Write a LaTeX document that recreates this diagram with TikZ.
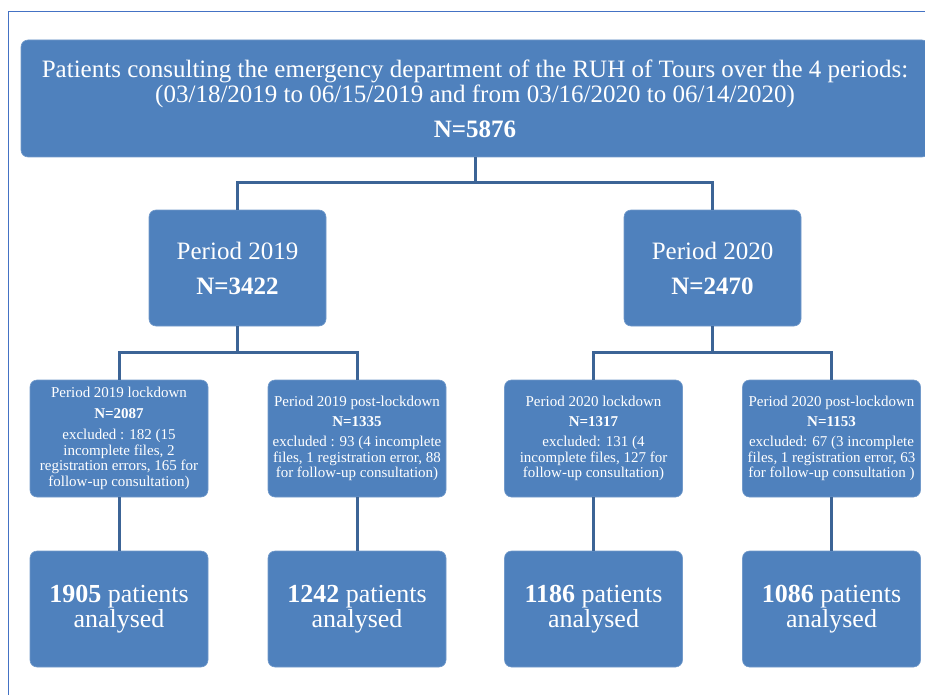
\documentclass[tikz,border=0pt]{standalone}
\usepackage{fontspec}
\setmainfont{Liberation Serif}
\definecolor{boxblue}{RGB}{79,129,189}
\definecolor{linkblue}{RGB}{60,100,150}
\definecolor{frameblue}{RGB}{68,114,196}

\begin{document}
\begin{tikzpicture}[x=1pt,y=1pt,yscale=-1,
  box/.style={draw=boxblue!80!white,line width=0.6pt,fill=boxblue,rounded corners=7pt,
    text=white,align=center,inner sep=0pt},
  bigbox/.style={box,minimum width=177,minimum height=116,font=\fontsize{25}{27}\selectfont},
  smallbox/.style={box,minimum width=178,minimum height=117,font=\fontsize{15}{15.5}\selectfont},
  endbox/.style={box,minimum width=178,minimum height=116,font=\fontsize{26}{24.5}\selectfont},
  link/.style={draw=linkblue,line width=3pt}]
\useasboundingbox (0,0) rectangle (925,695);

%Frame
\draw [frameblue,line width=1pt] (8,700) -- (8,12) -- (930,12) ;

% Top node
\node [box,minimum width=908,minimum height=117,font=\fontsize{25}{25}\selectfont] (all) at (475,98.5)
  {Patients consulting the emergency department of the RUH of Tours over the 4 periods:\\
   (03/18/2019 to 06/15/2019 and from 03/16/2020 to 06/14/2020)\\[10pt]
   \textbf{N=5876}};

% Period nodes
\node [bigbox] (p19) at (237.5,268) {Period 2019\\[8pt]\textbf{N=3422}};
\node [bigbox] (p20) at (712.5,268) {Period 2020\\[8pt]\textbf{N=2470}};

% Sub-period nodes
\node [smallbox] (lock19) at (119,438.5)
  {Period 2019 lockdown\\[5pt]\textbf{N=2087}\\[6pt]
   excluded : 182 (15\\ incomplete files, 2\\ registration errors, 165 for\\ follow-up consultation)};
\node [smallbox] (post19) at (357,438.5)
  {Period 2019 post-lockdown\\[4pt]\textbf{N=1335}\\[5pt]
   excluded : 93 (4 incomplete\\ files, 1 registration error, 88\\ for follow-up consultation)};
\node [smallbox] (lock20) at (593.5,438.5)
  {Period 2020 lockdown\\[4pt]\textbf{N=1317}\\[5pt]
   excluded: 131 (4\\ incomplete files, 127 for\\ follow-up consultation)};
\node [smallbox] (post20) at (831.5,438.5)
  {Period 2020 post-lockdown\\[4pt]\textbf{N=1153}\\[5pt]
   excluded: 67 (3 incomplete\\ files, 1 registration error, 63\\ for follow-up consultation )};

% Analysed nodes
\node [endbox] (an19) at (119,609) {\textbf{1905} patients\\ analysed};
\node [endbox] (anp19) at (357,609) {\textbf{1242} patients\\ analysed};
\node [endbox] (an20) at (593.5,609) {\textbf{1186} patients\\ analysed};
\node [endbox] (anp20) at (831.5,609) {\textbf{1086} patients\\ analysed};

%Connectors
\draw [link] (all.south) -- ++(0,25) -| (p19.north) ;
\draw [link] (all.south) -- ++(0,25) -| (p20.north) ;
\draw [link] (p19.south) -- ++(0,26) -| (lock19.north) ;
\draw [link] (p19.south) -- ++(0,26) -| (post19.north) ;
\draw [link] (p20.south) -- ++(0,26) -| (lock20.north) ;
\draw [link] (p20.south) -- ++(0,26) -| (post20.north) ;
\draw [link] (lock19.south) -- (an19.north) ;
\draw [link] (post19.south) -- (anp19.north) ;
\draw [link] (lock20.south) -- (an20.north) ;
\draw [link] (post20.south) -- (anp20.north) ;

\end{tikzpicture}
\end{document}
